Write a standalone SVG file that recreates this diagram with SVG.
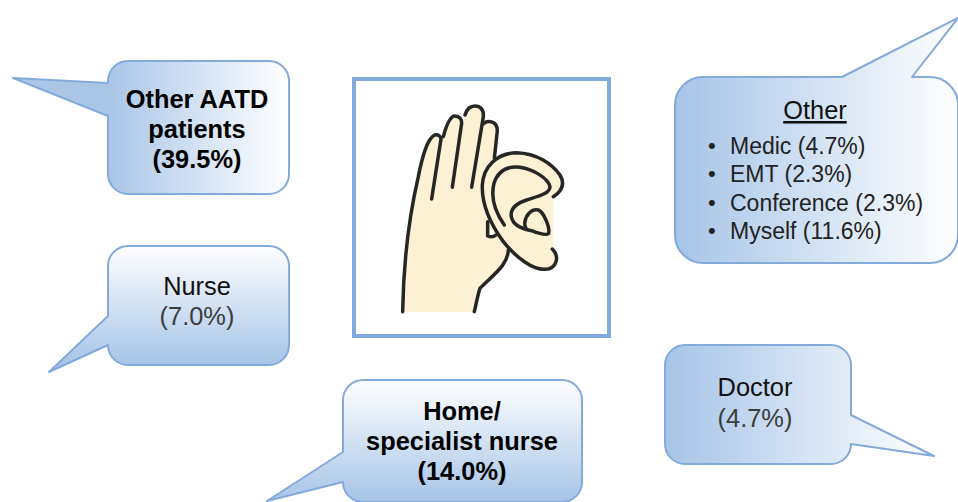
<svg xmlns="http://www.w3.org/2000/svg" width="958" height="502" viewBox="0 0 958 502">
<style>
text{font-family:"Liberation Sans",Arial,sans-serif;font-size:25.4px;text-anchor:middle;fill:#111}
.b{font-weight:bold;fill:#000}
.g{fill:#3c3c3c}
.l{text-anchor:start;fill:#222;font-size:23px}
.d{text-anchor:start;fill:#222;font-size:22px}
.bub{stroke:#83aadb;stroke-width:2;stroke-linejoin:round}
.ink{fill:none;stroke:#262626;stroke-width:10.5;stroke-linecap:round;stroke-linejoin:round}
</style>
<defs>
<linearGradient id="lr" x1="0" y1="0" x2="1" y2="0"><stop offset="0" stop-color="#a6c4e7"/><stop offset="1" stop-color="#fff"/></linearGradient>
<linearGradient id="aatd" gradientUnits="userSpaceOnUse" x1="108" y1="0" x2="289" y2="0"><stop offset="0" stop-color="#a9c6e7"/><stop offset="1" stop-color="#fff"/></linearGradient>
<linearGradient id="nurse" gradientUnits="userSpaceOnUse" x1="0" y1="246" x2="0" y2="365"><stop offset="0" stop-color="#fff"/><stop offset="1" stop-color="#a6c4e7"/></linearGradient>
<linearGradient id="home" gradientUnits="userSpaceOnUse" x1="0" y1="380" x2="0" y2="502"><stop offset="0" stop-color="#fff"/><stop offset="1" stop-color="#a6c4e7"/></linearGradient>
</defs>
<g id="connectors"></g>
<g id="node-center">
<rect x="354" y="79" width="255" height="257" fill="#fff" stroke="#83aadb" stroke-width="4"/>
<g transform="translate(340 70) scale(.3333)">
<path fill="#fcf2d3" d="M188 725C190 600 205 450 235 320C245 270 260 205 285 195C295 193 303 200 310 205C318 170 330 138 345 138C355 138 365 145 372 155C378 125 390 108 405 108C420 108 430 120 430 155C440 150 465 150 472 180L464 265C485 250 510 248 530 248C590 250 640 290 660 315C675 335 665 365 640 380L640 537C660 560 650 600 615 600C580 600 540 570 505 540C500 590 460 620 420 655C410 690 407 710 403 725Z"/>
<path fill="#fff" d="M446 472L446 498C454 500 462 498 466 494Z"/>
<path class="ink" d="M188 725C190 600 205 450 235 320C245 270 260 205 285 195C295 193 303 200 303 207L275 387"/>
<path class="ink" d="M310 200C318 170 330 138 345 138C358 138 366 148 365 160L337 352"/>
<path class="ink" d="M375 135C380 118 390 108 405 108C422 108 432 120 430 140L395 352"/>
<path class="ink" d="M430 162C440 150 472 150 472 182L463 265"/>
<path class="ink" d="M640 380C668 362 675 340 660 315C635 280 590 250 530 248C470 250 430 290 427 345C425 400 450 460 490 515C530 565 580 600 615 598C650 598 660 560 637 537"/>
<path class="ink" d="M493 465C465 425 452 380 462 340C475 300 505 288 540 292C580 298 625 325 630 350C630 372 590 380 560 390C530 400 510 415 514 440C520 470 550 478 575 482C595 490 620 497 626 490C630 470 610 425 595 420C575 415 558 435 555 455C553 465 555 472 560 478"/>
<path class="ink" d="M443 455L443 498C452 502 462 500 468 495"/>
<path class="ink" d="M505 540C503 585 465 610 420 655C412 680 408 705 403 725"/>
</g>
</g>
<g id="node-aatd">
<path class="bub" fill="url(#aatd)" d="M108 83V81A20 20 0 0 1 128 61H269A20 20 0 0 1 289 81V174A20 20 0 0 1 269 194H128A20 20 0 0 1 108 174V116L13 78Z"/>
<text class="b" x="197" y="108">Other AATD</text>
<text class="b" x="197" y="138">patients</text>
<text class="b" x="197" y="168">(39.5%)</text>
</g>
<g id="node-nurse">
<path class="bub" fill="url(#nurse)" d="M108 316V266A20 20 0 0 1 128 246H269A20 20 0 0 1 289 266V345A20 20 0 0 1 269 365H128A20 20 0 0 1 108 345L49 372Z"/>
<text x="197" y="295">Nurse</text>
<text class="g" x="197" y="325">(7.0%)</text>
</g>
<g id="node-home">
<path class="bub" fill="url(#home)" d="M343 452V400A20 20 0 0 1 363 380H562A20 20 0 0 1 582 400V482A20 20 0 0 1 562 502H363A20 20 0 0 1 343 482L267 501Z"/>
<text class="b" x="462" y="420">Home/</text>
<text class="b" x="462" y="450">specialist nurse</text>
<text class="b" x="462" y="480">(14.0%)</text>
</g>
<g id="node-doctor">
<path class="bub" fill="url(#lr)" d="M851 415L934 456L851 444A20 20 0 0 1 831 464H685A20 20 0 0 1 665 444V365A20 20 0 0 1 685 345H831A20 20 0 0 1 851 365Z"/>
<text x="755" y="396">Doctor</text>
<text class="g" x="755" y="427">(4.7%)</text>
</g>
<g id="node-other">
<path class="bub" fill="url(#lr)" d="M842 77L958 18L912 77H930A28 28 0 0 1 958 105V235A28 28 0 0 1 930 263H703A28 28 0 0 1 675 235V105A28 28 0 0 1 703 77Z"/>
<text x="815" y="119" style="text-decoration:underline">Other</text>
<text class="d" x="708" y="153">•</text><text class="l" x="730" y="154">Medic (4.7%)</text>
<text class="d" x="708" y="181">•</text><text class="l" x="730" y="182">EMT (2.3%)</text>
<text class="d" x="708" y="210">•</text><text class="l" x="730" y="211">Conference (2.3%)</text>
<text class="d" x="708" y="238">•</text><text class="l" x="730" y="239">Myself (11.6%)</text>
</g>
</svg>
